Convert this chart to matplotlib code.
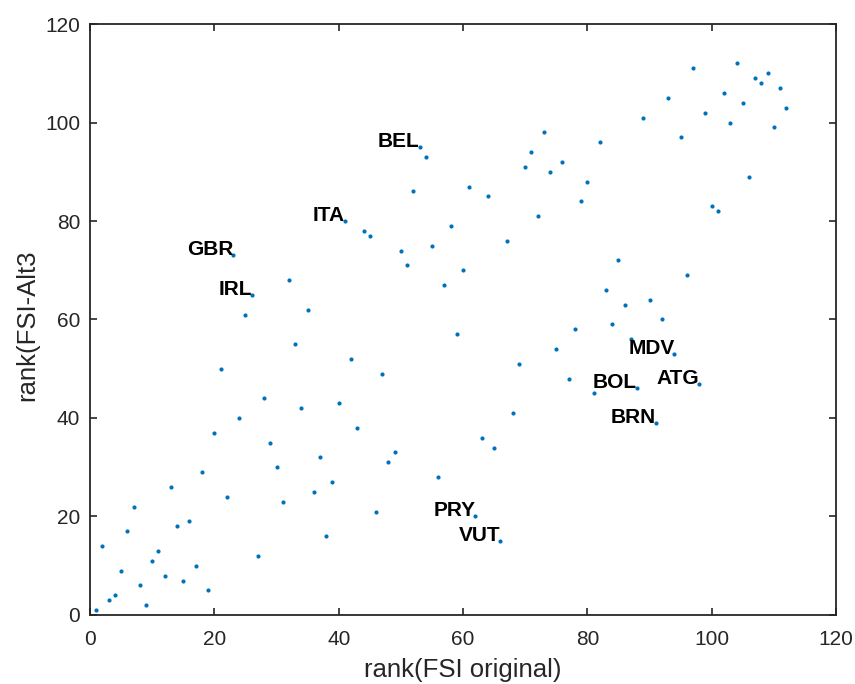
import matplotlib
matplotlib.use('Agg')
import matplotlib.pyplot as plt

plt.rcParams['font.family'] = ['Liberation Sans', 'DejaVu Sans']

# ranks under the original index (x) and under the Alt3 variant (y)
rank_orig = list(range(1, 113))
rank_alt3 = [1, 14, 3, 4, 9, 17, 22, 6, 2, 11,
             13, 8, 26, 18, 7, 19, 10, 29, 5, 37,
             50, 24, 73, 40, 61, 65, 12, 44, 35, 30,
             23, 68, 55, 42, 62, 25, 32, 16, 27, 43,
             80, 52, 38, 78, 77, 21, 49, 31, 33, 74,
             71, 86, 95, 93, 75, 28, 67, 79, 57, 70,
             87, 20, 36, 85, 34, 15, 76, 41, 51, 91,
             94, 81, 98, 90, 54, 92, 48, 58, 84, 88,
             45, 96, 66, 59, 72, 63, 56, 46, 101, 64,
             39, 60, 105, 53, 97, 69, 111, 47, 102, 83,
             82, 106, 100, 112, 104, 89, 109, 108, 110, 99,
             107, 103]

# countries that get a name tag
tag_names = ['BEL', 'ITA', 'GBR', 'IRL', 'MDV', 'BOL', 'ATG', 'BRN', 'PRY', 'VUT']
tag_x = [53, 41, 23, 26, 94, 88, 98, 91, 62, 66]

axis_col = (0.15, 0.15, 0.15)
dot_col = (0, 0.447, 0.741)

fig = plt.figure(figsize=(8.55, 6.84), dpi=100)
ax = fig.add_axes([0.1053, 0.1009, 0.8725, 0.8640])

ax.plot(rank_orig, rank_alt3, 'o', color=dot_col, ms=3, mec='none')

for name, xv in zip(tag_names, tag_x):
    yv = rank_alt3[rank_orig.index(xv)]
    ax.text(xv, yv, name, ha='right', va='baseline', fontsize=15,
            fontweight='bold', color='black')

ax.set_xlim(0, 120)
ax.set_ylim(0, 120)
ax.set_xticks(range(0, 121, 20))
ax.set_yticks(range(0, 121, 20))
ax.tick_params(direction='in', length=5, width=1.2, colors=axis_col,
               labelsize=15, top=True, right=True)
ax.tick_params(axis='x', pad=11)
ax.tick_params(axis='y', pad=7)
for sp in ax.spines.values():
    sp.set_color(axis_col)
    sp.set_linewidth(1.3)

ax.set_xlabel('rank(FSI original)', fontsize=18.5, color=axis_col, labelpad=6)
ax.set_ylabel('rank(FSI-Alt3', fontsize=18.5, color=axis_col)
ax.yaxis.set_label_coords(-0.068, 0.49)

fig.savefig('out.png', dpi=100)
